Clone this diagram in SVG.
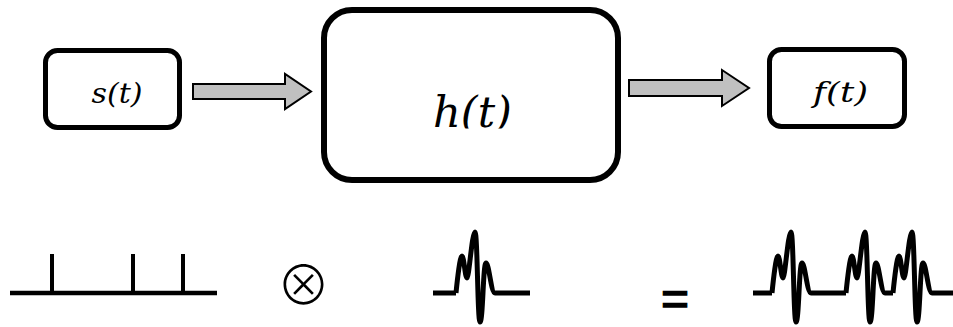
<svg xmlns="http://www.w3.org/2000/svg" width="953" height="327" viewBox="0 0 953 327">
<style>
.box{fill:#fff;stroke:#000}
.lbl{font-family:"DejaVu Serif","Liberation Serif",serif;font-style:italic;fill:#000;text-anchor:middle}
.arrow{fill:#c0c0c0;stroke:#000;stroke-width:2;stroke-linejoin:miter}
.wave{fill:none;stroke:#000;stroke-width:5;stroke-linejoin:round;stroke-linecap:butt}
</style>
<defs>
<clipPath id="hclip"><rect x="320" y="0" width="305" height="128.5"/></clipPath>
<path id="wl" d="M0,0 C1.5,-15 4,-37 6,-37 C8,-37 9,-15 11,-15 C13,-15 16,-61 19,-61 C21.5,-61 21.5,29 24,29 C27,29 27,-30 30,-30 C33,-30 35,0 39,0"/>
</defs>
<rect width="953" height="327" fill="#fff"/>
<g id="node-s">
<rect class="box" x="45.5" y="50.5" width="134" height="77" rx="12" stroke-width="5"/>
<text class="lbl" x="117" y="103" font-size="27" textLength="51" lengthAdjust="spacingAndGlyphs">s(t)</text>
</g>
<g id="node-h">
<rect class="box" x="324" y="10" width="294" height="170" rx="28" stroke-width="6"/>
<text class="lbl" x="472.5" y="127" font-size="43" textLength="79" lengthAdjust="spacingAndGlyphs" clip-path="url(#hclip)">h(t)</text>
</g>
<g id="node-f">
<rect class="box" x="769.5" y="49.5" width="135" height="77" rx="12" stroke-width="5"/>
<text class="lbl" x="840.5" y="102" font-size="27" textLength="55" lengthAdjust="spacingAndGlyphs">f(t)</text>
</g>
<g id="connectors">
<polygon class="arrow" points="193,84 285,84 285,74 311,91.5 285,109 285,99 193,99"/>
<polygon class="arrow" points="629,80 722,80 722,70 749,88 722,106 722,96 629,96"/>
</g>
<g id="comb" stroke="#000" fill="none">
<line x1="10" y1="293" x2="217" y2="293" stroke-width="4.5"/>
<line x1="52" y1="254" x2="52" y2="293" stroke-width="4"/>
<line x1="133" y1="254" x2="133" y2="293" stroke-width="4"/>
<line x1="183" y1="254" x2="183" y2="293" stroke-width="4"/>
</g>
<text x="303.5" y="305" font-family="Noto Sans CJK JP,DejaVu Sans,sans-serif" font-weight="300" font-size="54" text-anchor="middle" fill="#000">⊗</text>
<g id="wavelet" class="wave">
<line x1="433" y1="293" x2="456" y2="293"/>
<use href="#wl" x="456" y="293"/>
<line x1="495" y1="293" x2="530" y2="293"/>
</g>
<text x="675" y="315" font-family="Liberation Sans,Arial,sans-serif" font-size="48" text-anchor="middle" fill="#000" stroke="#000" stroke-width="1.3">=</text>
<g id="result" class="wave">
<line x1="753" y1="293" x2="772" y2="293"/>
<use href="#wl" x="772" y="293"/>
<line x1="811" y1="293" x2="846" y2="293"/>
<use href="#wl" x="846" y="293"/>
<line x1="885" y1="293" x2="893" y2="293"/>
<use href="#wl" x="893" y="293"/>
<line x1="932" y1="293" x2="953" y2="293"/>
</g>
</svg>
